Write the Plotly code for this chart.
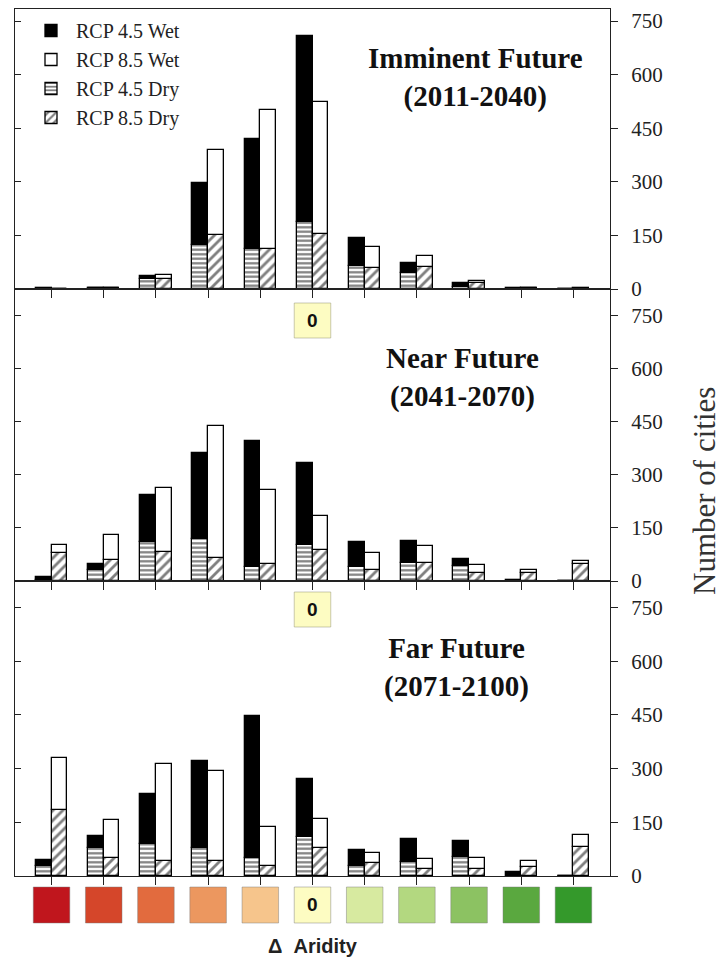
import plotly.graph_objects as go

# ---------------- data ----------------
categories = list(range(11))  # Δ Aridity classes (driest -> wettest), 0 at index 5
panel_titles = ["Imminent Future<br>(2011-2040)",
                "Near Future<br>(2041-2070)",
                "Far Future<br>(2071-2100)"]

# Imminent future
imm_rcp45_dry = [1, 2, 28, 123, 113, 189, 65, 44, 6, 1, 0]
imm_rcp45_wet = [1, 1, 8, 173, 308, 519, 77, 30, 10, 1, 1]
imm_rcp85_dry = [0, 2, 29, 150, 111, 155, 60, 62, 17, 3, 1]
imm_rcp85_wet = [1, 2, 10, 239, 390, 370, 58, 30, 5, 1, 1]

# Near future
near_rcp45_dry = [2, 31, 110, 120, 40, 101, 40, 51, 42, 1, 0]
near_rcp45_wet = [10, 16, 134, 243, 355, 234, 69, 61, 21, 3, 1]
near_rcp85_dry = [80, 59, 82, 65, 48, 87, 31, 51, 23, 24, 48]
near_rcp85_wet = [21, 72, 180, 374, 210, 98, 47, 47, 22, 7, 9]

# Far future
far_rcp45_dry = [29, 78, 90, 78, 51, 110, 28, 40, 54, 1, 0]
far_rcp45_wet = [17, 34, 138, 242, 396, 160, 46, 63, 44, 9, 1]
far_rcp85_dry = [183, 50, 43, 41, 28, 78, 36, 19, 19, 26, 81]
far_rcp85_wet = [146, 106, 271, 252, 110, 82, 28, 28, 31, 16, 33]

aridity_colors = ["#c0161d", "#d5462a", "#e26b3e", "#ec975f", "#f6c58c", "#fdfcc2",
                  "#d7eaa0", "#b3d880", "#8cc262", "#5aa83f", "#34992b"]
aridity_zero_index = 5
y_tickvals = [0, 150, 300, 450, 600, 750]

panels = [
    (imm_rcp45_dry, imm_rcp45_wet, imm_rcp85_dry, imm_rcp85_wet),
    (near_rcp45_dry, near_rcp45_wet, near_rcp85_dry, near_rcp85_wet),
    (far_rcp45_dry, far_rcp45_wet, far_rcp85_dry, far_rcp85_wet),
]

# ---------------- layout helpers ----------------
W, H = 727, 959
ML, MR, MT, MB = 15, 117, 9, 83
PW, PH = W - ML - MR, H - MT - MB
def px(xp):
    return (xp - ML) / PW
def py(yp):
    return (H - MB - yp) / PH

panel_px = [(9, 289), (289, 581), (581, 876)]
y_ranges = [784, 826, 824]

SERIF = "Liberation Serif"
SANS = "Liberation Sans"
LINE = "#222222"

fig = go.Figure()

for p, (d45, w45, d85, w85) in enumerate(panels):
    xa = "x" if p == 0 else f"x{p+1}"
    ya = "y" if p == 0 else f"y{p+1}"
    show = p == 0
    common = dict(x=categories, xaxis=xa, yaxis=ya, width=0.3)
    fig.add_trace(go.Bar(y=d45, offset=-0.3, name="RCP 4.5 Dry", legendrank=3,
                         showlegend=show, legendgroup="d45",
                         marker=dict(color="white", line=dict(color="black", width=1.3),
                                     pattern=dict(shape="-", fgcolor="black", bgcolor="white",
                                                  size=4.5, solidity=0.5)),
                         **common))
    fig.add_trace(go.Bar(y=w45, base=d45, offset=-0.3, name="RCP 4.5 Wet", legendrank=1,
                         showlegend=show, legendgroup="w45",
                         marker=dict(color="black", line=dict(color="black", width=1.3)),
                         **common))
    fig.add_trace(go.Bar(y=d85, offset=0.0, name="RCP 8.5 Dry", legendrank=4,
                         showlegend=show, legendgroup="d85",
                         marker=dict(color="white", line=dict(color="black", width=1.3),
                                     pattern=dict(shape="/", fgcolor="black", bgcolor="white",
                                                  size=7, solidity=0.4)),
                         **common))
    fig.add_trace(go.Bar(y=w85, base=d85, offset=0.0, name="RCP 8.5 Wet", legendrank=2,
                         showlegend=show, legendgroup="w85",
                         marker=dict(color="white", line=dict(color="black", width=1.3)),
                         **common))

layout = dict(
    width=W, height=H,
    margin=dict(l=ML, r=MR, t=MT, b=MB),
    paper_bgcolor="white", plot_bgcolor="white",
    barmode="overlay", bargap=0,
    showlegend=True,
    legend=dict(x=px(26), y=py(11), xanchor="left", yanchor="top",
                bgcolor="rgba(0,0,0,0)", borderwidth=0, traceorder="normal",
                font=dict(family=SERIF, size=20, color=LINE),
                itemwidth=40, tracegroupgap=0),
)

for p, (top, bot) in enumerate(panel_px):
    n = "" if p == 0 else str(p + 1)
    xa_key, ya_key = f"xaxis{n}", f"yaxis{n}"
    xa_ref, ya_ref = f"x{n}", f"y{n}"
    layout[xa_key] = dict(domain=[0, 1], anchor=ya_ref, range=[-0.7, 10.7],
                          tickvals=categories, showticklabels=False,
                          ticks="outside", ticklen=8, tickwidth=1.3, tickcolor=LINE,
                          showline=True, linecolor=LINE, linewidth=1.2, mirror=True,
                          showgrid=False, zeroline=False, fixedrange=True)
    layout[ya_key] = dict(domain=[py(bot), py(top)], anchor=xa_ref, side="right",
                          range=[0, y_ranges[p]], tickvals=y_tickvals,
                          ticks="outside", ticklen=7, tickwidth=1.3, tickcolor=LINE,
                          ticklabelstandoff=9,
                          tickfont=dict(family=SERIF, size=21, color=LINE),
                          showline=True, linecolor=LINE, linewidth=1.2, mirror=True,
                          showgrid=False, zeroline=False)
    # left-side inward ticks
    m = str(p + 4)
    layout[f"yaxis{m}"] = dict(overlaying=ya_ref, anchor=xa_ref, side="left",
                               range=[0, y_ranges[p]], tickvals=y_tickvals,
                               ticks="inside", ticklen=6, tickwidth=1.3, tickcolor=LINE,
                               showticklabels=False, showline=False, showgrid=False,
                               zeroline=False)

fig.update_layout(**layout)

# dummy traces to activate the left tick axes
for p in range(3):
    fig.add_trace(go.Scatter(x=[None], y=[None], xaxis="x" if p == 0 else f"x{p+1}",
                             yaxis=f"y{p+4}", showlegend=False, hoverinfo="skip"))

# panel titles
title_pos = [(475, 77), (462, 377), (456, 667)]
for (tx, ty), t in zip(title_pos, panel_titles):
    fig.add_annotation(x=px(tx), y=py(ty), xref="paper", yref="paper",
                       text=f"<b>{t}</b>", showarrow=False,
                       font=dict(family=SERIF, size=29, color="#111111"),
                       xanchor="center", yanchor="middle")

# y axis title
fig.add_annotation(x=px(705), y=py(491), xref="paper", yref="paper",
                   text="Number of cities", textangle=-90, showarrow=False,
                   font=dict(family=SERIF, size=31, color="#333333"),
                   xanchor="center", yanchor="middle")

# Δ Aridity colour key under the bottom panel
for i, c in zip(categories, aridity_colors):
    fig.add_shape(type="rect", xref="x3", yref="paper",
                  x0=i - 0.35, x1=i + 0.35, y0=py(923), y1=py(887),
                  fillcolor=c, line=dict(color="rgba(120,120,120,0.45)", width=1))
fig.add_annotation(x=aridity_zero_index, y=py(905), xref="x3", yref="paper",
                   text="<b>0</b>", showarrow=False, xanchor="center", yanchor="middle",
                   font=dict(family=SANS, size=19, color="#111111"))
fig.add_annotation(x=aridity_zero_index, y=py(946), xref="x3", yref="paper",
                   text="<b>Δ  Aridity</b>", showarrow=False, xanchor="center", yanchor="middle",
                   font=dict(family=SANS, size=20, color="#222222"))

# the "0" key boxes that sit at the top of the lower panels
for (top, bottom) in [(303, 338), (592, 627)]:
    fig.add_shape(type="rect", xref="x3", yref="paper",
                  x0=aridity_zero_index - 0.35, x1=aridity_zero_index + 0.35,
                  y0=py(bottom), y1=py(top),
                  fillcolor=aridity_colors[aridity_zero_index],
                  line=dict(color="rgba(150,150,120,0.5)", width=1))
    fig.add_annotation(x=aridity_zero_index, y=py((top + bottom) / 2), xref="x3", yref="paper",
                       text="<b>0</b>", showarrow=False, xanchor="center", yanchor="middle",
                       font=dict(family=SANS, size=19, color="#111111"))

fig.write_html("out.html")
